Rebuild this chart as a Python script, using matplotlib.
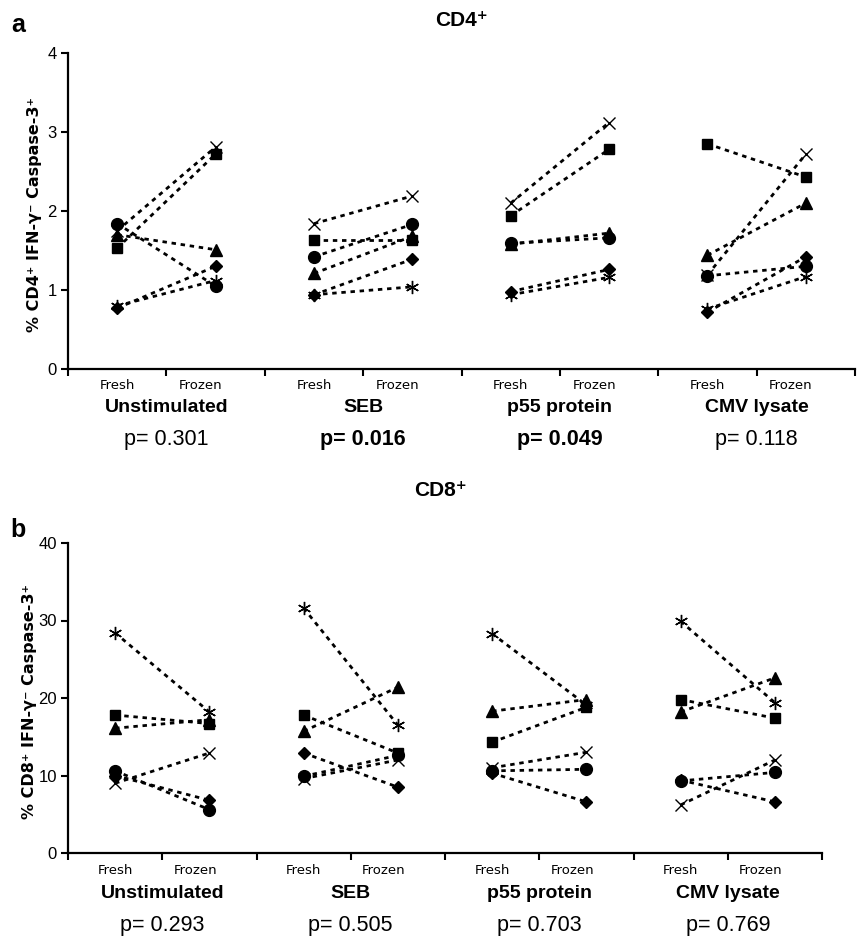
import matplotlib
matplotlib.use("Agg")
import matplotlib.pyplot as plt
import matplotlib.transforms as mtransforms
from matplotlib import font_manager

# ---------------- data ----------------
groups = ["Unstimulated", "SEB", "p55 protein", "CMV lysate"]
conditions = ["Fresh", "Frozen"]
subjects = ["circle", "square", "triangle", "diamond", "x", "asterisk"]

# CD4 values: rows = groups, columns = subjects (circle, square, triangle, diamond, x, asterisk)
cd4_fresh = [
    [1.84, 1.53, 1.70, 0.77, 1.75, 0.80],
    [1.42, 1.63, 1.21, 0.94, 1.84, 0.94],
    [1.59, 1.94, 1.58, 0.98, 2.10, 0.94],
    [1.18, 2.85, 1.44, 0.72, 1.19, 0.76],
]
cd4_frozen = [
    [1.05, 2.72, 1.51, 1.30, 2.81, 1.12],
    [1.83, 1.63, 1.68, 1.39, 2.19, 1.04],
    [1.66, 2.78, 1.72, 1.26, 3.12, 1.16],
    [1.30, 2.43, 2.10, 1.42, 2.72, 1.17],
]
cd4_p = ["p= 0.301", "p= 0.016", "p= 0.049", "p= 0.118"]
cd4_p_bold = [False, True, True, False]

cd8_fresh = [
    [10.6, 17.8, 16.1, 10.0, 9.0, 28.4],
    [9.9, 17.8, 15.7, 12.9, 9.6, 31.6],
    [10.6, 14.3, 18.3, 10.3, 11.0, 28.3],
    [9.3, 19.8, 18.2, 9.4, 6.2, 29.9],
]
cd8_frozen = [
    [5.6, 16.7, 17.2, 6.8, 12.9, 18.2],
    [12.6, 12.9, 21.4, 8.5, 12.0, 16.5],
    [10.8, 18.8, 19.8, 6.6, 13.0, 19.1],
    [10.4, 17.4, 22.6, 6.6, 12.0, 19.4],
]
cd8_p = ["p= 0.293", "p= 0.505", "p= 0.703", "p= 0.769"]
cd8_p_bold = [False, False, False, False]

# ---------------- style ----------------
marker_map = {
    "circle": dict(marker="o", ms=8.5, mfc="black", mec="black"),
    "square": dict(marker="s", ms=7.5, mfc="black", mec="black"),
    "triangle": dict(marker="^", ms=8.5, mfc="black", mec="black"),
    "diamond": dict(marker="D", ms=6.5, mfc="black", mec="black"),
    "x": dict(marker="x", ms=8.5, mfc="none", mec="black", mew=1.0),
    "asterisk": dict(marker=(6, 2, 0), ms=9.5, mfc="none", mec="black", mew=1.0),
}

W, H = 864, 946
fig = plt.figure(figsize=(W / 100, H / 100), dpi=100)

SANS = ["Liberation Sans", "DejaVu Sans"]
VERD = ["DejaVu Sans"]
installed = {f.name for f in font_manager.fontManager.ttflist}
NARROW = ["Liberation Sans Narrow", "Liberation Sans", "DejaVu Sans"] \
    if "Liberation Sans Narrow" in installed else SANS
p_size = 17 if "Liberation Sans Narrow" in installed else 15.5


def panel(rect_px, fresh, frozen, ymax, ystep, ylabel, label_right_px, title,
          title_xy, letter, letter_xy, pvals, pbold, rows_px):
    l, r, t, b = rect_px
    ax = fig.add_axes([l / W, 1 - b / H, (r - l) / W, (b - t) / H])
    ncat = len(groups) * len(conditions)
    for g in range(len(groups)):
        x0 = g * 2
        for s, name in enumerate(subjects):
            ax.plot([x0, x0 + 1], [fresh[g][s], frozen[g][s]],
                    color="black", lw=2.0, ls=(0, (1.6, 1.7)), zorder=2)
        for s, name in enumerate(subjects):
            ax.plot([x0, x0 + 1], [fresh[g][s], frozen[g][s]],
                    ls="none", zorder=3, **marker_map[name])
    ax.set_xlim(-0.5, ncat - 0.5)
    ax.set_ylim(0, ymax)
    ax.set_xticks([i - 0.5 for i in range(ncat + 1)])
    ax.set_xticklabels([])
    nyt = int(round(ymax / ystep)) + 1
    ax.set_yticks([i * ystep for i in range(nyt)])
    ax.set_yticklabels([str(int(i * ystep)) for i in range(nyt)],
                       fontsize=12, family=SANS)
    for sp in ["top", "right"]:
        ax.spines[sp].set_visible(False)
    for sp in ["left", "bottom"]:
        ax.spines[sp].set_linewidth(1.6)
        ax.spines[sp].set_clip_on(False)
    ax.tick_params(axis="both", direction="out", length=5, width=1.5, color="black")
    ax.tick_params(axis="y", pad=3)
    ax.set_ylabel(ylabel, fontsize=11.5, fontweight="bold", family=VERD)
    ax.yaxis.set_label_coords((label_right_px - l) / (r - l), 0.49)

    tr = mtransforms.blended_transform_factory(ax.transData, fig.transFigure)
    y_cond, y_group, y_p = [1 - v / H for v in rows_px]
    dx = [0.0, -0.15]
    for g, gname in enumerate(groups):
        for c, cname in enumerate(conditions):
            ax.text(g * 2 + c + dx[c], y_cond, cname, transform=tr, ha="center",
                    va="center", fontsize=9.5, family=VERD)
        ax.text(g * 2 + 0.5, y_group, gname, transform=tr, ha="center", va="center",
                fontsize=14, fontweight="bold", family=SANS)
        ax.text(g * 2 + 0.5, y_p, pvals[g], transform=tr, ha="center", va="center",
                fontsize=p_size, fontweight="bold" if pbold[g] else "normal",
                family=NARROW)

    fig.text(title_xy[0] / W, 1 - title_xy[1] / H, title, ha="center", va="center",
             fontsize=15, fontweight="bold", family=SANS)
    fig.text(letter_xy[0] / W, 1 - letter_xy[1] / H, letter, ha="center", va="center",
             fontsize=18, fontweight="bold", family=SANS)
    return ax


panel((68, 855, 53, 369), cd4_fresh, cd4_frozen, 4, 1,
      "% CD4\u207a IFN-\u03b3\u207b Caspase-3\u207a", 42, "CD4\u207a", (462, 20), "a", (18, 25),
      cd4_p, cd4_p_bold, (385, 408, 440))

panel((68, 822, 543, 853), cd8_fresh, cd8_frozen, 40, 10,
      "% CD8\u207a IFN-\u03b3\u207b Caspase-3\u207a", 37, "CD8\u207a", (440, 490), "b", (18, 530),
      cd8_p, cd8_p_bold, (870, 893, 925))

fig.savefig("out.png", dpi=100)
